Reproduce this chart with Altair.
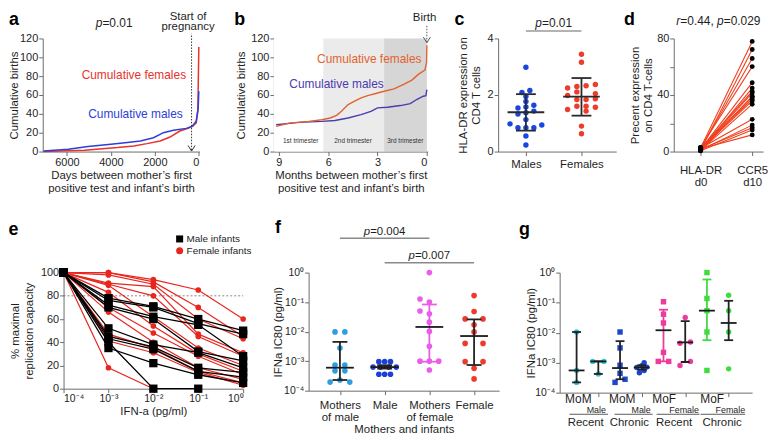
import altair as alt
import pandas as pd

FONT = "Liberation Sans"
AXC = "#6b6b6b"
TXT = "#1e1e1e"

# ---------------- panel a : cumulative births vs days ----------------
a_male_days = [7060, 5940, 5045, 4000, 3250, 2660, 2060, 1610, 1160, 570, 300, 120, 30, 0]
a_male_cum = [0.7, 2.5, 5.3, 7.7, 9.5, 11.2, 14.7, 20, 22.5, 24.6, 27, 32.3, 46.3, 64]
a_fem_days = [7060, 5190, 3700, 2955, 2360, 1760, 1310, 865, 490, 270, 120, 45, 0]
a_fem_cum = [0, 1.4, 4.2, 6, 8.4, 11.2, 15.4, 21.8, 24.6, 27, 30.5, 42.8, 111]
a_preg_day = 330

# ---------------- panel b : cumulative births vs months ----------------
b_fem_month = [9.16, 8.37, 7.18, 6.38, 5.88, 5.49, 5.19, 4.79, 4.39, 4.0, 3.6, 3.1, 2.6, 2.0, 1.41, 0.91, 0.52, 0.12, 0.02, 0.0]
b_fem_cum = [26.7, 30.2, 32, 33.8, 35.6, 38.4, 42.7, 49.8, 53.4, 56.9, 59.4, 61.6, 64, 66.5, 71.2, 75.8, 81.9, 86.5, 94.3, 112.8]
b_male_month = [9.16, 7.77, 6.38, 5.59, 4.79, 4.0, 3.4, 3.0, 2.4, 1.61, 1.01, 0.62, 0.22, 0.06, 0.0]
b_male_cum = [28.5, 31, 32, 33, 35.6, 39.1, 42.7, 46.3, 47, 48.8, 50.9, 55.2, 58.7, 59.4, 65.8]
b_tri_start = [9.3, 6.3, 2.6]
b_tri_end = [6.3, 2.6, 0.0]
b_tri_fill = ["#ffffff", "#ebebeb", "#d6d6d6"]
b_tri_label = ["1st trimester", "2nd trimester", "3rd trimester"]
b_tri_label_x = [7.67, 4.49, 1.31]

# ---------------- panel c : HLA-DR expression ----------------
c_male_vals = [2.98, 2.09, 2.16, 1.95, 1.77, 1.54, 1.64, 1.58, 1.33, 1.43, 1.37, 1.13, 0.98, 0.94, 0.84, 0.84, 0.84, 0.55, 0.23]
c_male_offs = [0, -0.071, 0.071, 0, 0, -0.143, 0.143, 0, -0.143, 0.143, 0, 0, -0.286, 0.286, -0.143, 0, 0.143, 0, 0]
c_fem_vals = [3.44, 3.16, 2.25, 2.30, 2.33, 2.37, 2.11, 1.98, 2.05, 1.84, 1.84, 1.87, 1.60, 1.60, 1.57, 1.49, 1.43, 0.90, 0.63]
c_fem_offs = [0, 0, -0.25, -0.083, 0.083, 0.25, -0.083, -0.25, 0.25, -0.083, 0.083, 0.25, -0.083, 0.083, 0.25, -0.25, 0.083, 0, 0]
c_mean = [1.39, 1.94]
c_lo = [0.74, 1.27]
c_hi = [2.03, 2.60]

# ---------------- panel d : paired expression ----------------
d_d0 = [2.5, 1.0, 2.0, 3.0, 1.5, 0.8, 2.2, 1.2, 0.5, 2.8, 1.8, 0.9, 2.4, 1.1, 1.6, 0.6, 2.0, 1.3]
d_d10 = [77.9, 72.2, 65.8, 60.1, 48.7, 44.9, 42.6, 41.5, 39.2, 36.9, 35.8, 33.5, 22.8, 18.7, 16.9, 15.3, 11.8, 38.5]

# ---------------- panel e : replication capacity ----------------
e_dose = [1e-4, 1e-3, 1e-2, 1e-1, 1.0]
e_male = [
    [100, 78, 71, 60, 50],
    [100, 76, 70, 56, 47],
    [100, 72, 62, 55, 28],
    [100, 70, 60, 32, 24],
    [100, 52, 38, 31, 18],
    [100, 45, 36, 18, 14],
    [100, 43, 34, 15, 10],
    [100, 35, 22, 12, 5],
    [100, 40, 0, 0],
]
e_female = [
    [100, 100, 94, 85, 60],
    [100, 100, 92, 70, 45],
    [100, 98, 90, 60, 43],
    [100, 91, 88, 47, 31],
    [100, 90, 80, 45, 28],
    [100, 89, 62, 35, 20],
    [100, 83, 54, 30, 15],
    [100, 70, 48, 28, 12],
    [100, 66, 40, 18, 8],
    [100, 47, 35, 15, 5],
    [100, 41, 31, 14, 3],
    [100, 18, 0],
]
e_leg_lab = ["Male infants", "Female infants"]
e_leg_col = ["#000000", "#e8261e"]
e_leg_shape = ["square", "circle"]

# ---------------- panel f : IFNa IC80 ----------------
f_groups = ["Mothers of male", "Male", "Mothers of female", "Female"]
f_colors = ["#2b9fe3", "#1d3fd6", "#ea5de8", "#ec3b2b"]
f_vals = [
    [9.8e-3, 9.8e-3, 2.8e-3, 7.4e-4, 7.4e-4, 4.7e-4, 4.7e-4, 2.3e-4, 1.95e-4, 1.95e-4],
    [9.6e-4, 9.6e-4, 9.6e-4, 6.3e-4, 6.3e-4, 6.3e-4, 6.3e-4, 3.6e-4, 3.6e-4, 3.6e-4],
    [1.0, 0.128, 0.1, 0.05, 0.04, 0.021, 0.0102, 0.0032, 1e-3, 1e-3, 1e-3, 5e-4],
    [0.166, 0.048, 0.027, 0.027, 0.017, 0.0098, 0.004, 0.004, 9.6e-4, 9.6e-4, 5.7e-4, 2.5e-4],
]
f_offs = [
    [-0.11, 0.11, 0, -0.11, 0.11, -0.11, 0.11, 0, -0.22, 0.22],
    [-0.13, 0, 0.13, -0.26, -0.09, 0.09, 0.26, -0.13, 0, 0.13],
    [0, -0.21, 0, -0.21, 0, 0, 0, 0, -0.21, 0, 0.21, 0],
    [0, 0, -0.2, 0.2, 0, 0, -0.2, 0.2, -0.2, 0.2, 0, 0],
]
f_med = [6.0e-4, 6.3e-4, 0.0144, 0.0071]
f_lo = [2.3e-4, 5.6e-4, 9.6e-4, 7.4e-4]
f_hi = [4.5e-3, 7.2e-4, 0.083, 0.026]
f_barcol = ["#222222", "#222222", "#ea5de8", "#222222"]

# ---------------- panel g : IFNa IC80 by timing ----------------
g_colors = ["#31c6d6", "#31c6d6", "#1c45d0", "#1c45d0", "#ec3c9c", "#ec3c9c", "#3edc3e", "#3edc3e"]
g_shapes = ["circle", "circle", "square", "circle", "square", "circle", "square", "circle"]
g_vals = [
    [0.0105, 5.5e-4, 2.2e-4],
    [1.1e-3, 1.1e-3, 4.2e-4],
    [0.0105, 3.1e-3, 8.2e-4, 4.4e-4, 2.2e-4, 2.8e-4],
    [6.9e-4, 7.9e-4, 7.1e-4, 1.0e-3, 4.6e-4, 5.5e-4],
    [0.107, 0.041, 0.021, 2.2e-3, 1.1e-3, 1.1e-3],
    [0.032, 4.4e-3, 4.9e-3, 8e-4, 1.1e-3],
    [1.0, 0.137, 0.054, 0.0105, 5.5e-4],
    [0.177, 0.054, 0.0105, 6.2e-4],
]
g_offs = [
    [0, 0, 0],
    [-0.26, 0.26, 0],
    [0, 0, 0, 0, -0.23, 0.23],
    [-0.23, 0, 0.23, 0.11, -0.11, 0.11],
    [0, 0, 0, 0, -0.24, 0.24],
    [0, -0.24, 0.24, -0.24, 0.24],
    [0, 0, 0, 0, 0],
    [0, 0, 0, 0],
]
g_med = [5.5e-4, 1.1e-3, 6.6e-4, 6.9e-4, 0.012, 4.7e-3, 0.054, 0.021]
g_lo = [2.2e-4, 4.2e-4, 2.8e-4, 5.8e-4, 1.1e-3, 1.05e-3, 5.6e-3, 5.6e-3]
g_hi = [0.0105, 1.1e-3, 5.2e-3, 8.2e-4, 0.058, 0.024, 0.59, 0.115]
g_barcol = ["#222222", "#222222", "#222222", "#222222", "#ec3c9c", "#222222", "#3edc3e", "#222222"]
g_top_lab = ["MoM", "MoM", "MoF", "MoF"]
g_top_x = [1.08, 3.1, 5.03, 7.24]
g_sub_lab = ["Male", "Male", "Female", "Female"]
g_sub_x = [1.91, 3.97, 5.95, 8.08]
g_grp_lab = ["Recent", "Chronic", "Recent", "Chronic"]
g_grp_x = [1.42, 3.43, 5.49, 7.7]
g_line_x1 = [0.67, 2.75, 4.68, 6.71]
g_line_x2 = [2.45, 4.5, 6.66, 8.76]

# ---------------- helpers ----------------
CW = {'0': .556, '1': .556, '2': .556, '3': .556, '4': .556, '5': .556, '6': .556,
      '7': .556, '8': .556, '9': .556, '.': .278, ',': .278, ' ': .278, '=': .584,
      'p': .556, 'r': .333}


def tw(s, size):
    return sum(CW.get(ch, 0.556) for ch in s) * size


def rich(x, y, segs, size, X, Y):
    df = pd.DataFrame({'x': [x], 'y': [y]})
    total = sum(tw(s, size) for s, _ in segs)
    off = -total / 2
    out = []
    for s, it in segs:
        out.append(alt.Chart(df).mark_text(
            text=s, align='left', baseline='alphabetic', dx=off, fontSize=size,
            font=FONT, fontStyle='italic' if it else 'normal', color=TXT
        ).encode(x=X(), y=Y()))
        off += tw(s, size)
    return out


def texts(df, X, Y, size=11, color=TXT, align='center', baseline='alphabetic', dx=0):
    return alt.Chart(df).mark_text(align=align, baseline=baseline, fontSize=size, dx=dx,
                                   font=FONT, color=color).encode(x=X(), y=Y(), text='t:N')


def letter(ch, x, y, X, Y):
    df = pd.DataFrame({'x': [x], 'y': [y]})
    return alt.Chart(df).mark_text(text=ch, align='left', baseline='alphabetic', fontSize=18,
                                   fontWeight='bold', font=FONT, color='#000000').encode(x=X(), y=Y())


def yaxis(title, extent, **kw):
    return alt.Axis(title=title, minExtent=extent, maxExtent=extent, titlePadding=2,
                    titleLineHeight=13.5, **kw)


ARROW = "M-1,-1.6L0,0L1,-1.6"
SUP = ("datum.value < 0.0005 ? '10⁻⁴' : datum.value < 0.005 ? '10⁻³' : "
       "datum.value < 0.05 ? '10⁻²' : datum.value < 0.5 ? '10⁻¹' : '10⁰'")

# ---------------- panel a chart ----------------
a_sx = alt.Scale(domain=[-30, 7100], reverse=True, nice=False, zero=False)
a_sy = alt.Scale(domain=[0, 120], nice=False)


def aX():
    return alt.X('x:Q', scale=a_sx, axis=alt.Axis(
        values=[0, 2000, 4000, 6000], format='d',
        title=["Days between mother’s first", "positive test and infant’s birth"]))


def aY():
    return alt.Y('y:Q', scale=a_sy, axis=yaxis("Cumulative births", 21,
                                               values=[0, 20, 40, 60, 80, 100, 120]))


a_layers = [
    alt.Chart(pd.DataFrame({'x': a_fem_days, 'y': a_fem_cum})).mark_line(
        color="#e8322c", strokeWidth=1.5).encode(x=aX(), y=aY()),
    alt.Chart(pd.DataFrame({'x': a_male_days, 'y': a_male_cum})).mark_line(
        color="#2c3fd8", strokeWidth=1.5).encode(x=aX(), y=aY()),
    alt.Chart(pd.DataFrame({'x': [a_preg_day], 'y': [1.5], 'y2': [125]})).mark_rule(
        color="#333333", strokeDash=[1.5, 1.5], strokeWidth=1).encode(x=aX(), y=aY(), y2='y2:Q'),
    alt.Chart(pd.DataFrame({'x': [a_preg_day], 'y': [0.5]})).mark_point(
        shape=ARROW, filled=False, size=50, color="#333333", strokeWidth=1, opacity=1).encode(x=aX(), y=aY()),
    texts(pd.DataFrame({'x': [2955], 'y': [81.4], 't': ["Cumulative females"]}), aX, aY,
          size=12, color="#e8322c", baseline='middle'),
    texts(pd.DataFrame({'x': [2880], 'y': [40], 't': ["Cumulative males"]}), aX, aY,
          size=12, color="#2c3fd8", baseline='middle'),
    texts(pd.DataFrame({'x': [490, 490], 'y': [140.0, 128.9], 't': ["Start of", "pregnancy"]}),
          aX, aY, size=11.5),
    letter("a", 8634, 134.7, aX, aY),
] + rich(3850, 132.3, [("p", True), ("=0.01", False)], 12, aX, aY)

chart_a = alt.layer(*a_layers).properties(width=158, height=114)

# ---------------- panel b chart ----------------
b_sx = alt.Scale(domain=[-0.05, 9.3], reverse=True, nice=False, zero=False)
b_sy = alt.Scale(domain=[0, 120], nice=False)


def bX():
    return alt.X('x:Q', scale=b_sx, axis=alt.Axis(
        values=[0, 3, 6, 9],
        title=["Months between mother’s first", "positive test and infant’s birth"]))


def bY():
    return alt.Y('y:Q', scale=b_sy, axis=yaxis("Cumulative births", 25.5,
                                               values=[0, 20, 40, 60, 80, 100, 120]))


b_shade = pd.DataFrame({'x': b_tri_start, 'x2': b_tri_end, 'y': [0] * 3, 'y2': [120] * 3,
                        'c': b_tri_fill})
b_layers = [
    alt.Chart(b_shade).mark_rect().encode(x=bX(), x2='x2:Q', y=bY(), y2='y2:Q',
                                          color=alt.Color('c:N', scale=None)),
    texts(pd.DataFrame({'x': b_tri_label_x, 'y': [11.7] * 3, 't': b_tri_label}), bX, bY,
          size=6.5, color="#333333", baseline='middle'),
    alt.Chart(pd.DataFrame({'x': b_male_month, 'y': b_male_cum})).mark_line(
        color="#4b3bb0", strokeWidth=1.4).encode(x=bX(), y=bY()),
    alt.Chart(pd.DataFrame({'x': b_fem_month, 'y': b_fem_cum})).mark_line(
        color="#e2632e", strokeWidth=1.4).encode(x=bX(), y=bY()),
    alt.Chart(pd.DataFrame({'x': [0.0], 'y': [116], 'y2': [134]})).mark_rule(
        color="#555555", strokeDash=[1.5, 1.5], strokeWidth=1).encode(x=bX(), y=bY(), y2='y2:Q'),
    alt.Chart(pd.DataFrame({'x': [0.0], 'y': [115.5]})).mark_point(
        shape=ARROW, filled=False, size=50, color="#555555", strokeWidth=1, opacity=1).encode(x=bX(), y=bY()),
    texts(pd.DataFrame({'x': [0.14], 'y': [138.5], 't': ["Birth"]}), bX, bY, size=11.5),
    texts(pd.DataFrame({'x': [3.5], 'y': [97.9], 't': ["Cumulative females"]}), bX, bY,
          size=12, color="#e2632e", baseline='middle'),
    texts(pd.DataFrame({'x': [5.49], 'y': [71.2], 't': ["Cumulative males"]}), bX, bY,
          size=12, color="#4b3bb0", baseline='middle'),
    letter("b", 11.71, 134.7, bX, bY),
]
chart_b = alt.layer(*b_layers).properties(width=155, height=114)

# ---------------- panel c chart ----------------
c_sx = alt.Scale(domain=[0.5, 2.625], nice=False, zero=False)
c_sy = alt.Scale(domain=[0, 4], nice=False)


def cX():
    return alt.X('x:Q', scale=c_sx, axis=alt.Axis(
        values=[1, 2], labelExpr="datum.value == 1 ? 'Males' : 'Females'", title=None,
        labelFontSize=11.5, labelPadding=3))


def cY():
    return alt.Y('y:Q', scale=c_sy, axis=yaxis(["HLA-DR expression on", "CD4 T cells"], 14.5,
                                               values=[0, 1, 2, 3, 4]))


c_pts = pd.DataFrame({
    'x': [1 + o for o in c_male_offs] + [2 + o for o in c_fem_offs],
    'y': c_male_vals + c_fem_vals,
    'c': ["#1a46e0"] * len(c_male_vals) + ["#ec3d2a"] * len(c_fem_vals)})
c_stat = pd.DataFrame({'x': [1, 2], 'm': c_mean, 'lo': c_lo, 'hi': c_hi})
c_layers = [
    alt.Chart(c_pts).mark_circle(size=30, opacity=1).encode(x=cX(), y=cY(),
                                                            color=alt.Color('c:N', scale=None)),
    alt.Chart(c_stat).mark_rule(color="#2a2a2a", strokeWidth=1.8).encode(
        x=cX(), y=alt.Y('lo:Q', scale=c_sy), y2='hi:Q'),
    alt.Chart(c_stat).mark_tick(orient='horizontal', size=20, thickness=1.8, color="#2a2a2a",
                                opacity=1).encode(x=cX(), y=alt.Y('lo:Q', scale=c_sy)),
    alt.Chart(c_stat).mark_tick(orient='horizontal', size=20, thickness=1.8, color="#2a2a2a",
                                opacity=1).encode(x=cX(), y=alt.Y('hi:Q', scale=c_sy)),
    alt.Chart(c_stat).mark_tick(orient='horizontal', size=37, thickness=1.8, color="#2a2a2a",
                                opacity=1).encode(x=cX(), y=alt.Y('m:Q', scale=c_sy)),
    alt.Chart(pd.DataFrame({'x': [1], 'x2': [2], 'y': [4.26]})).mark_rule(
        color="#9a9a9a", strokeWidth=1.5).encode(x=cX(), x2='x2:Q', y=cY()),
    letter("c", -0.286, 4.49, cX, cY),
] + rich(1.5, 4.41, [("p", True), ("=0.01", False)], 12, cX, cY)
chart_c = alt.layer(*c_layers).properties(width=119, height=114)

# ---------------- panel d chart ----------------
d_sx = alt.Scale(domain=[0.48, 2.21], nice=False, zero=False)
d_sy = alt.Scale(domain=[0, 80], nice=False)


def dX():
    return alt.X('x:Q', scale=d_sx, axis=alt.Axis(
        values=[1, 2], labelExpr="datum.value == 1 ? ['HLA-DR', 'd0'] : ['CCR5', 'd10']",
        title=None, labelFontSize=11.5, labelPadding=9, labelLineHeight=12))


def dY():
    return alt.Y('y:Q', scale=d_sy, axis=yaxis(
        ["Precent expression", "on CD4 T-cells"], 18.5, values=[0, 20, 40, 60, 80],
        labelExpr="datum.value % 40 == 0 ? datum.label : ''"))


d_rows = []
for i, (v0, v1) in enumerate(zip(d_d0, d_d10)):
    d_rows.append({'id': i, 'x': 1, 'y': v0})
    d_rows.append({'id': i, 'x': 2, 'y': v1})
d_df = pd.DataFrame(d_rows)
d_layers = [
    alt.Chart(d_df).mark_line(color="#f0401e", strokeWidth=1.1).encode(x=dX(), y=dY(), detail='id:N'),
    alt.Chart(d_df).mark_circle(size=24, color="#000000", opacity=1).encode(x=dX(), y=dY()),
    letter("d", -0.482, 89.8, dX, dY),
] + rich(1.345, 89.8, [("r", True), ("=0.44, ", False), ("p", True), ("=0.029", False)], 12, dX, dY)
chart_d = alt.layer(*d_layers).properties(width=90, height=114)

# ---------------- panel e chart ----------------
e_sx = alt.Scale(type='log', domain=[1e-4, 1], nice=False)
e_sy = alt.Scale(domain=[0, 100], nice=False)


def eX():
    return alt.X('x:Q', scale=e_sx, axis=alt.Axis(values=e_dose, labelExpr=SUP, labelFontSize=10.5,
                                                  title="IFN-a (pg/ml)"))


def eY():
    return alt.Y('y:Q', scale=e_sy, axis=yaxis(["% maximal", "replication capacity"], 27.5,
                                               values=[0, 20, 40, 60, 80, 100]))


e_rows_f, e_rows_m = [], []
for i, s in enumerate(e_female):
    for xv, yv in zip(e_dose, s):
        e_rows_f.append({'id': 'f%d' % i, 'x': xv, 'y': yv})
for i, s in enumerate(e_male):
    for xv, yv in zip(e_dose, s):
        e_rows_m.append({'id': 'm%d' % i, 'x': xv, 'y': yv})
e_f = pd.DataFrame(e_rows_f)
e_m = pd.DataFrame(e_rows_m)
e_leg = pd.DataFrame({'x': [0.0385, 0.0385], 'y': [129, 118.8], 't': e_leg_lab,
                      'c': e_leg_col, 's': e_leg_shape})
e_layers = [
    alt.Chart(pd.DataFrame({'x': [1e-4], 'x2': [1.0], 'y': [80]})).mark_rule(
        color="#666666", strokeDash=[2, 2], strokeWidth=0.8).encode(x=eX(), x2='x2:Q', y=eY()),
    alt.Chart(e_f).mark_line(color="#e8261e", strokeWidth=1.2).encode(x=eX(), y=eY(), detail='id:N'),
    alt.Chart(e_m).mark_line(color="#000000", strokeWidth=1.3).encode(x=eX(), y=eY(), detail='id:N'),
    alt.Chart(e_f).mark_circle(color="#e8261e", size=32, opacity=1).encode(x=eX(), y=eY()),
    alt.Chart(e_m).mark_square(color="#000000", size=70, opacity=1).encode(x=eX(), y=eY()),
    alt.Chart(e_leg).mark_point(filled=True, size=50, opacity=1).encode(
        x=eX(), y=eY(), color=alt.Color('c:N', scale=None), shape=alt.Shape('s:N', scale=None)),
    texts(e_leg, eX, eY, size=10, align='left', baseline='middle', dx=7),
    letter("e", 5.9e-6, 132.5, eX, eY),
]
chart_e = alt.layer(*e_layers).properties(width=181, height=117)

# ---------------- panel f chart ----------------
f_sx = alt.Scale(domain=[0.3, 4.56], nice=False, zero=False)
f_sy = alt.Scale(type='log', domain=[1e-4, 1], nice=False)


def fX():
    return alt.X('x:Q', scale=f_sx, axis=alt.Axis(
        values=[1, 2, 3, 4],
        labelExpr=("datum.value == 1 ? ['Mothers', 'of male'] : datum.value == 2 ? 'Male' : "
                   "datum.value == 3 ? ['Mothers', 'of female'] : 'Female'"),
        labelBaseline='middle', labelPadding=11, labelLineHeight=12.5, labelFontSize=11.5,
        title="Mothers and infants", titleFontSize=11.5, titlePadding=0))


def fY():
    return alt.Y('y:Q', scale=f_sy, axis=yaxis("IFNa IC80 (pg/ml)", 23.5, labelFontSize=10.5,
                                               values=[1e-4, 1e-3, 1e-2, 1e-1, 1], labelExpr=SUP))


f_rows = []
for gi, (vals, offs) in enumerate(zip(f_vals, f_offs)):
    for v, o in zip(vals, offs):
        f_rows.append({'x': gi + 1 + o, 'y': v, 'c': f_colors[gi]})
f_pts = pd.DataFrame(f_rows)
f_stat = pd.DataFrame({'x': [1, 2, 3, 4], 'm': f_med, 'lo': f_lo, 'hi': f_hi, 'bc': f_barcol})
f_br = pd.DataFrame({'x': [1, 2], 'x2': [3, 4], 'y': [14.6, 2.16]})
f_layers = [
    alt.Chart(f_pts).mark_circle(size=32, opacity=1).encode(x=fX(), y=fY(),
                                                            color=alt.Color('c:N', scale=None)),
    alt.Chart(f_stat).mark_rule(strokeWidth=1.8).encode(
        x=fX(), y=alt.Y('lo:Q', scale=f_sy), y2='hi:Q', color=alt.Color('bc:N', scale=None)),
    alt.Chart(f_stat).mark_tick(orient='horizontal', size=15, thickness=1.8, opacity=1).encode(
        x=fX(), y=alt.Y('lo:Q', scale=f_sy), color=alt.Color('bc:N', scale=None)),
    alt.Chart(f_stat).mark_tick(orient='horizontal', size=15, thickness=1.8, opacity=1).encode(
        x=fX(), y=alt.Y('hi:Q', scale=f_sy), color=alt.Color('bc:N', scale=None)),
    alt.Chart(f_stat).mark_tick(orient='horizontal', size=28, thickness=1.8, opacity=1,
                                color="#1a1a1a").encode(x=fX(), y=alt.Y('m:Q', scale=f_sy)),
    alt.Chart(f_br).mark_rule(color="#8a8a8a", strokeWidth=1.3).encode(x=fX(), x2='x2:Q', y=fY()),
    letter("f", -0.454, 22.1, fX, fY),
] + rich(2.0, 18.8, [("p", True), ("=0.004", False)], 11.5, fX, fY) \
  + rich(3.0, 2.95, [("p", True), ("=0.007", False)], 11.5, fX, fY)
chart_f = alt.layer(*f_layers).properties(width=192, height=119)

# ---------------- panel g chart ----------------
g_sx = alt.Scale(domain=[0.22, 9.08], nice=False, zero=False)
g_sy = alt.Scale(type='log', domain=[1e-4, 1], nice=False)


def gX():
    return alt.X('x:Q', scale=g_sx, axis=alt.Axis(values=[2, 4, 6, 8], labels=False, title=None))


def gY():
    return alt.Y('y:Q', scale=g_sy, axis=yaxis("IFNa IC80 (pg/ml)", 21.5, labelFontSize=10.5,
                                               values=[1e-4, 1e-3, 1e-2, 1e-1, 1], labelExpr=SUP))


g_rows = []
for gi, (vals, offs) in enumerate(zip(g_vals, g_offs)):
    for v, o in zip(vals, offs):
        g_rows.append({'x': gi + 1 + o, 'y': v, 'c': g_colors[gi], 's': g_shapes[gi]})
g_pts = pd.DataFrame(g_rows)
g_stat = pd.DataFrame({'x': list(range(1, 9)), 'm': g_med, 'lo': g_lo, 'hi': g_hi, 'bc': g_barcol})
g_layers = [
    alt.Chart(g_pts).mark_point(filled=True, size=30, opacity=1).encode(
        x=gX(), y=gY(), color=alt.Color('c:N', scale=None), shape=alt.Shape('s:N', scale=None)),
    alt.Chart(g_stat).mark_rule(strokeWidth=1.8).encode(
        x=gX(), y=alt.Y('lo:Q', scale=g_sy), y2='hi:Q', color=alt.Color('bc:N', scale=None)),
    alt.Chart(g_stat).mark_tick(orient='horizontal', size=9, thickness=1.8, opacity=1).encode(
        x=gX(), y=alt.Y('lo:Q', scale=g_sy), color=alt.Color('bc:N', scale=None)),
    alt.Chart(g_stat).mark_tick(orient='horizontal', size=9, thickness=1.8, opacity=1).encode(
        x=gX(), y=alt.Y('hi:Q', scale=g_sy), color=alt.Color('bc:N', scale=None)),
    alt.Chart(g_stat).mark_tick(orient='horizontal', size=16, thickness=1.8, opacity=1,
                                color="#1a1a1a").encode(x=gX(), y=alt.Y('m:Q', scale=g_sy)),
    texts(pd.DataFrame({'x': g_top_x, 'y': [10 ** -4.35] * 4, 't': g_top_lab}), gX, gY, size=12),
    texts(pd.DataFrame({'x': g_sub_x, 'y': [10 ** -4.666] * 4, 't': g_sub_lab}), gX, gY, size=9),
    texts(pd.DataFrame({'x': g_grp_x, 'y': [10 ** -5.105] * 4, 't': g_grp_lab}), gX, gY, size=11.5),
    alt.Chart(pd.DataFrame({'x': g_line_x1, 'x2': g_line_x2, 'y': [10 ** -4.72] * 4})).mark_rule(
        color="#333333", strokeWidth=0.8).encode(x=gX(), x2='x2:Q', y=gY()),
    letter("g", -1.65, 18.0, gX, gY),
]
chart_g = alt.layer(*g_layers).properties(width=194, height=121)


# ---------------- layout ----------------
def spacer(w):
    return alt.Chart(pd.DataFrame({'x': [0]})).mark_point(opacity=0).encode(
        x=alt.X('x:Q', axis=None), y=alt.Y('x:Q', axis=None)).properties(width=w, height=10)


top = alt.hconcat(chart_a, spacer(75), chart_b, spacer(71), chart_c, spacer(58), chart_d,
                  spacing=0, bounds='flush')
bottom = alt.hconcat(spacer(21), chart_e, spacer(66), chart_f, spacer(61), chart_g,
                     spacing=0, bounds='flush')

chart = alt.vconcat(top, bottom, spacing=25, padding=0).configure_view(stroke=None).configure_axis(
    domainColor=AXC, tickColor=AXC, labelColor=TXT, titleColor=TXT, labelFont=FONT,
    titleFont=FONT, labelFontSize=11, titleFontSize=11.5, titleFontWeight='normal', grid=False,
    tickSize=4, labelPadding=1, titlePadding=2, domainWidth=1, tickWidth=1
)

chart.save("out.html", embed_options={"renderer": "svg", "actions": False})
